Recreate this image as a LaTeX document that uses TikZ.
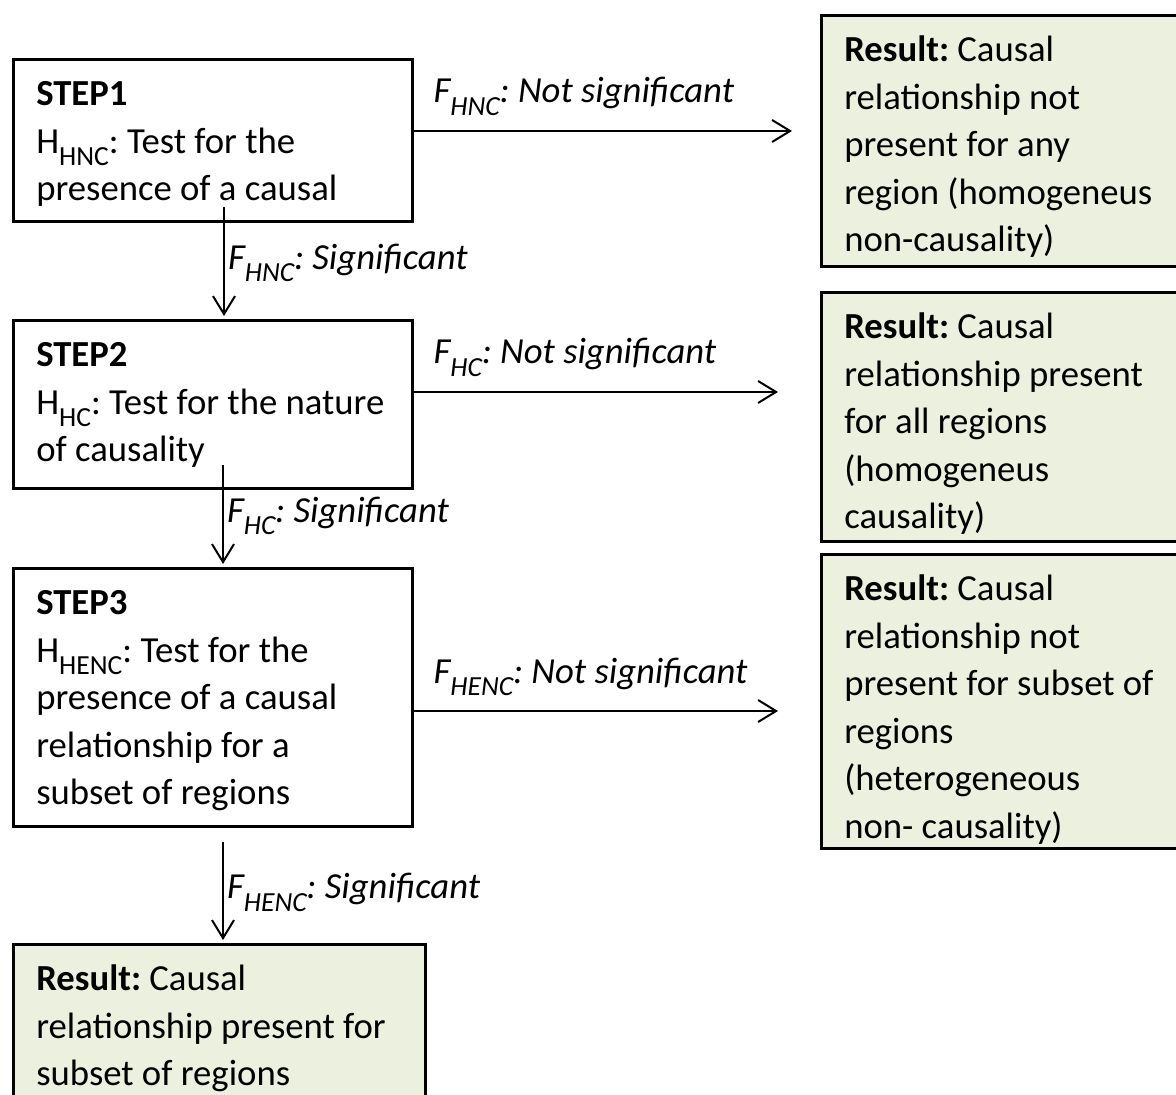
\documentclass[tikz,border=0pt]{standalone}
\usepackage{fontspec}
\setmainfont{Carlito}
\usetikzlibrary{arrows.meta}

\definecolor{resgreen}{HTML}{EBF1DE}
\newcommand{\subtxt}[1]{\raisebox{-6.2pt}{\fontsize{13.8}{14}\selectfont #1}}
\newcommand{\boxbody}[3]{\parbox[t][#2][t]{#1}{\strut #3}}
\newcommand{\diagfont}{\fontsize{18.35}{23.75}\selectfont}
\frenchspacing

\begin{document}
\begin{tikzpicture}[x=0.5pt,y=-0.5pt,font=\diagfont,
    box/.style={draw, line width=1.3pt, anchor=north west, inner xsep=11.5pt, inner ysep=6.5pt},
    result/.style={box, fill=resgreen},
    flow/.style={-{Straight Barb[length=9pt,width=11pt]}, line width=1pt}]
    \useasboundingbox (0,0) rectangle (1176,1095);

    % tests
    \node[box](s1) at (12,58) {\boxbody{176.5pt}{68pt}{\textbf{STEP1}\\H\subtxt{HNC}: Test for the\\presence of a causal}};
    \node[box](s2) at (12,319) {\boxbody{176.5pt}{71pt}{\textbf{STEP2}\\H\subtxt{HC}: Test for the nature\\of causality}};
    \node[box](s3) at (12,567) {\boxbody{176.5pt}{116pt}{\textbf{STEP3}\\H\subtxt{HENC}: Test for the\\presence of a causal\\relationship for a\\subset of regions}};

    % outcomes
    \node[result](r1) at (820,14) {\boxbody{177pt}{112.5pt}{\textbf{Result:} Causal\\relationship not\\present for any\\region (homogeneus\\non-causality)}};
    \node[result](r2) at (820,291) {\boxbody{177pt}{111.5pt}{\textbf{Result:} Causal\\relationship present\\for all regions\\(homogeneus\\causality)}};
    \node[result](r3) at (820,553) {\boxbody{177pt}{134pt}{\textbf{Result:} Causal\\relationship not\\present for subset of\\regions\\(heterogeneous\\non- causality)}};
    \node[result](rb) at (12,943) {\boxbody{183pt}{87pt}{\textbf{Result:} Causal\\relationship present for\\subset of regions}};

    \coordinate (e1) at (792,131);
    \coordinate (e2) at (778,392);
    \coordinate (e3) at (778,711);
    \coordinate (v1) at (224,207);
    \coordinate (v2) at (223,465);
    \coordinate (v3) at (223,842);

    \foreach \a/\b/\h in {s1/e1/HNC, s2/e2/HC, s3/e3/HENC}{
        \draw[flow] (\a.east |- \b) -- (\b)
            node[pos=0, anchor=base west, xshift=9.5pt, yshift=14pt, inner sep=0pt]{\textit{F\subtxt{\h}: Not significant}};
    }
    \foreach \a/\b/\h in {v1/s2/HNC, v2/s3/HC, v3/rb/HENC}{
        \draw[flow, shorten >=1.5pt] (\a) -- (\a |- \b.north)
            node[midway, anchor=west, inner sep=1.5pt]{\textit{F\subtxt{\h}: Significant}};
    }
\end{tikzpicture}
\end{document}
